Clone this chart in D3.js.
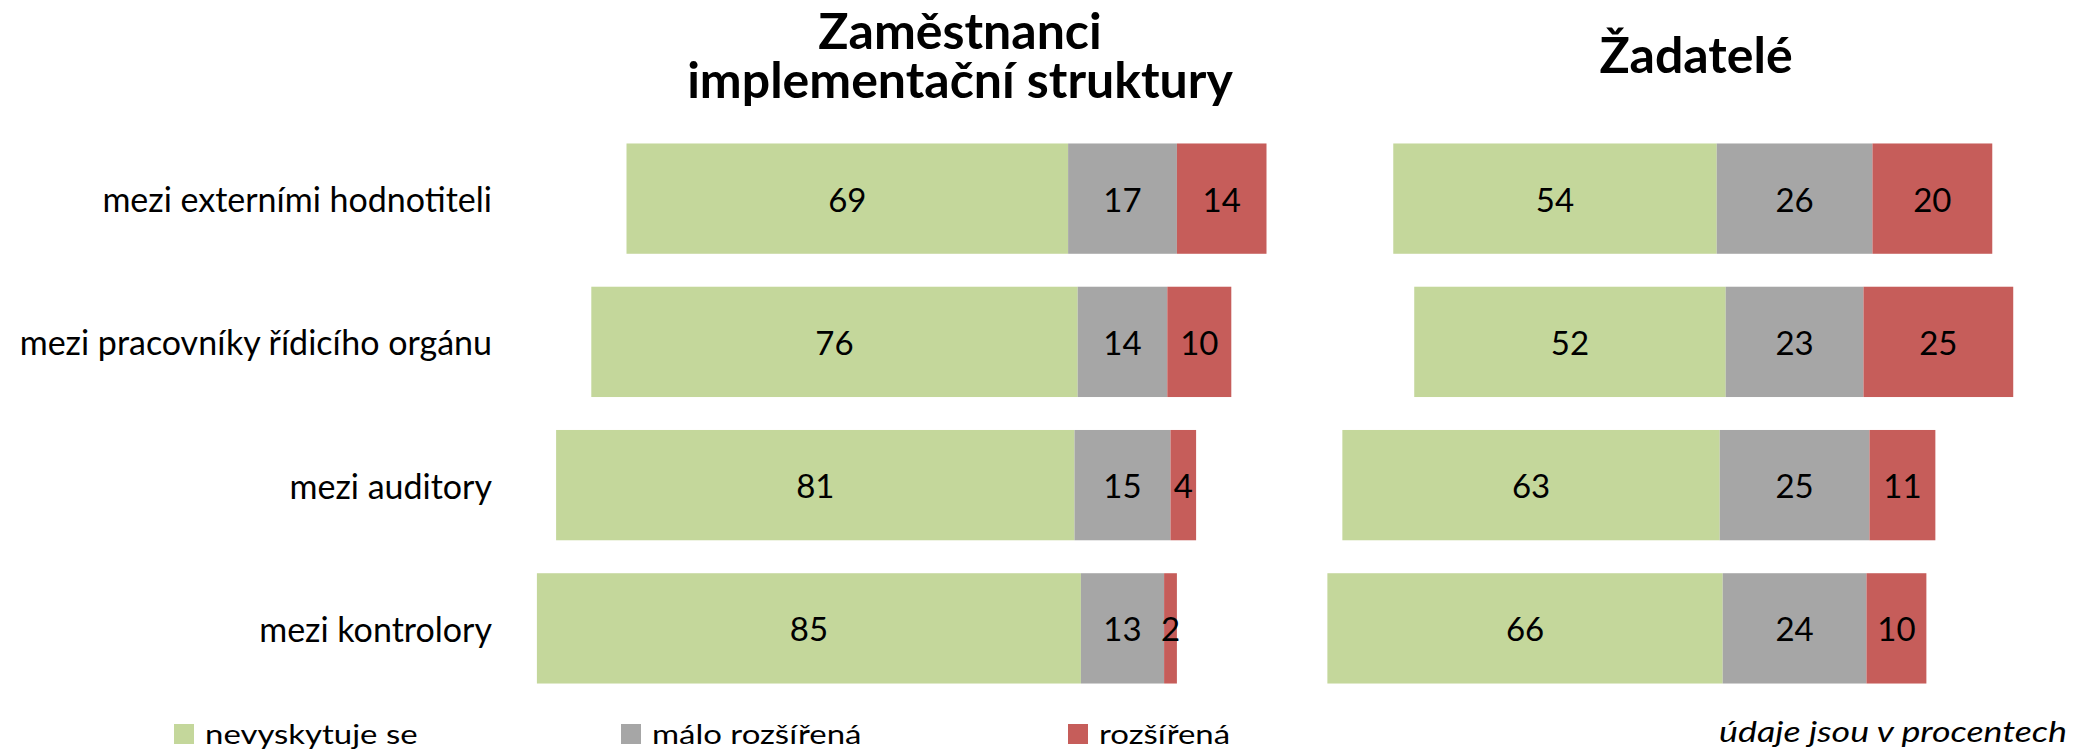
<!DOCTYPE html>
<html>
<head>
<meta charset="utf-8">
<script src="https://cdn.jsdelivr.net/npm/d3@7"></script>
<style>
  body { margin: 0; background: #fff; }
  svg text { font-family: Lato, "DejaVu Sans", sans-serif; fill: #000; }
</style>
</head>
<body>
<div id="chart"></div>
<script>
"use strict"

// data (percent)
let categories = ["mezi externími hodnotiteli", "mezi pracovníky řídicího orgánu", "mezi auditory", "mezi kontrolory"];
let seriesNames = ["nevyskytuje se", "málo rozšířená", "rozšířená"];
let panelTitles = [["Zaměstnanci", "implementační struktury"], ["Žadatelé"]];
let staffNone = [69, 76, 81, 85];
let staffRare = [17, 14, 15, 13];
let staffWide = [14, 10, 4, 2];
let applNone = [54, 52, 63, 66];
let applRare = [26, 23, 25, 24];
let applWide = [20, 25, 11, 10];
let note = "údaje jsou v procentech";

let colors = ["#C4D79B", "#A6A6A6", "#C65D5A"];

let width = 2073, height = 750;

let drawing = d3.select("#chart")
    .append("svg")
    .attr("width", width)
    .attr("height", height);

// rows
let y = d3.scaleBand()
    .domain(categories)
    .range([127, 700])
    .paddingInner(0.23)
    .paddingOuter(0.115);

// each panel is centred on the middle of the "málo rozšířená" segment
let xStaff = d3.scaleLinear().domain([-50, 50]).range([1122.5 - 320, 1122.5 + 320]);
let xAppl = d3.scaleLinear().domain([-50, 50]).range([1794.6 - 299.5, 1794.6 + 299.5]);

function buildRows(none, rare, wide) {
    return categories.map(function (c, i) {
        let start = -(none[i] + rare[i] / 2);
        let vals = [none[i], rare[i], wide[i]];
        let segs = [];
        let pos = start;
        vals.forEach(function (v, k) {
            segs.push({ cat: c, k: k, v: v, x0: pos, x1: pos + v });
            pos += v;
        });
        return segs;
    });
}

function drawPanel(rows, x) {
    let g = drawing.append("g");
    let segs = rows.flat();
    g.selectAll("rect")
        .data(segs)
        .enter()
        .append("rect")
        .attr("x", d => x(d.x0))
        .attr("y", d => y(d.cat))
        .attr("width", d => x(d.x1) - x(d.x0))
        .attr("height", y.bandwidth())
        .attr("fill", d => colors[d.k]);

    g.selectAll("text")
        .data(segs)
        .enter()
        .append("text")
        .attr("x", d => x((d.x0 + d.x1) / 2))
        .attr("y", d => y(d.cat) + y.bandwidth() / 2)
        .attr("text-anchor", "middle")
        .attr("dominant-baseline", "central")
        .style("font-size", "33px")
        .text(d => d.v);
}

drawPanel(buildRows(staffNone, staffRare, staffWide), xStaff);
drawPanel(buildRows(applNone, applRare, applWide), xAppl);

// category labels
drawing.append("g")
    .selectAll("text")
    .data(categories)
    .enter()
    .append("text")
    .attr("x", 492)
    .attr("y", d => y(d) + y.bandwidth() / 2)
    .attr("text-anchor", "end")
    .attr("dominant-baseline", "central")
    .style("font-size", "34px")
    .text(d => d);

// panel titles
let titleLeft = drawing.append("text")
    .attr("text-anchor", "middle")
    .style("font-size", "50px")
    .style("font-weight", "bold");
panelTitles[0].forEach(function (line, i) {
    titleLeft.append("tspan")
        .attr("x", 960)
        .attr("y", 49 + i * 49)
        .text(line);
});

drawing.append("text")
    .attr("x", 1696)
    .attr("y", 73)
    .attr("text-anchor", "middle")
    .style("font-size", "50px")
    .style("font-weight", "bold")
    .text(panelTitles[1][0]);

// legend (text is a bit stretched sideways in the original)
let legend = drawing.append("g");
seriesNames.forEach(function (name, i) {
    let lx = 174 + i * 447;
    legend.append("rect")
        .attr("x", lx)
        .attr("y", 724)
        .attr("width", 20)
        .attr("height", 20)
        .attr("fill", colors[i]);
    legend.append("text")
        .attr("transform", "translate(" + (lx + 31) + ",744) scale(1.22,1)")
        .style("font-size", "27px")
        .text(name);
});

drawing.append("text")
    .attr("transform", "translate(2067,742) scale(1.28,1)")
    .attr("text-anchor", "end")
    .style("font-size", "28px")
    .style("font-style", "italic")
    .text(note);
</script>
</body>
</html>
